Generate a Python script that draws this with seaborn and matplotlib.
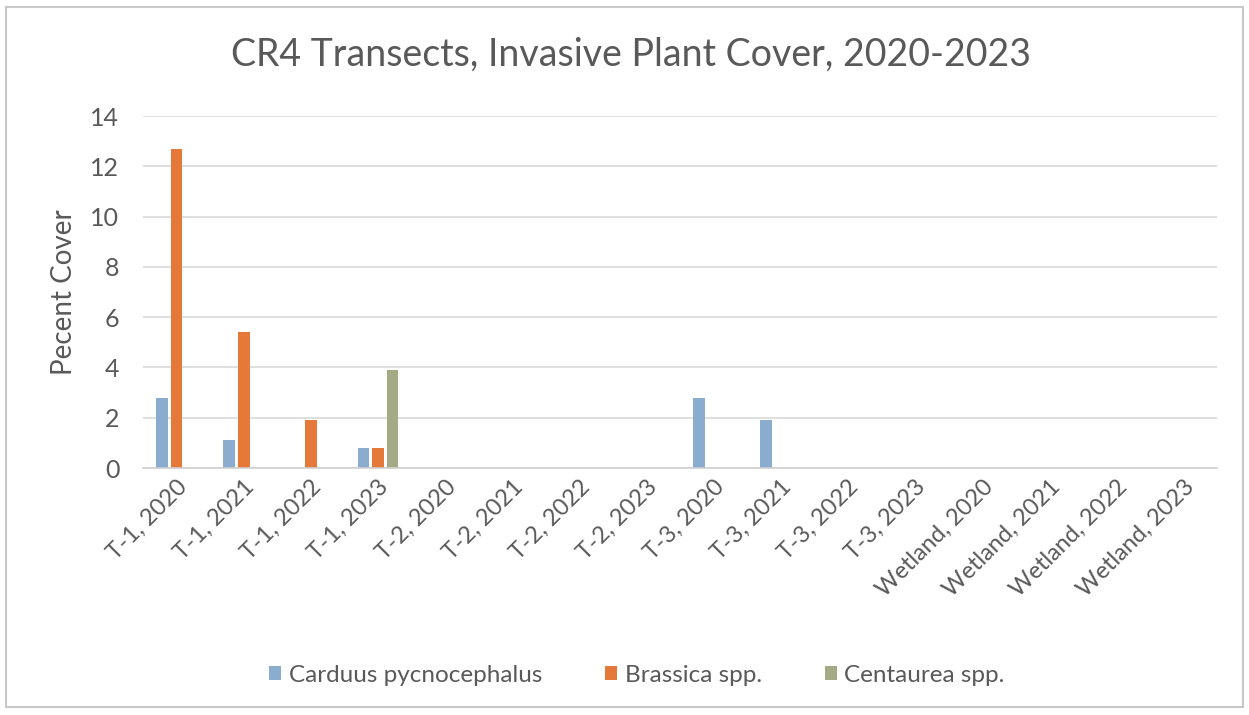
import matplotlib
matplotlib.use("Agg")
import matplotlib.pyplot as plt
from matplotlib.patches import Rectangle
import pandas as pd
import seaborn as sns

# Sampling units (transect, year)
categories = [
    "T-1, 2020", "T-1, 2021", "T-1, 2022", "T-1, 2023",
    "T-2, 2020", "T-2, 2021", "T-2, 2022", "T-2, 2023",
    "T-3, 2020", "T-3, 2021", "T-3, 2022", "T-3, 2023",
    "Wetland, 2020", "Wetland, 2021", "Wetland, 2022", "Wetland, 2023",
]

# Percent cover per species
carduus = [2.8, 1.1, 0, 0.8, 0, 0, 0, 0, 2.8, 1.9, 0, 0, 0, 0, 0, 0]
brassica = [12.7, 5.4, 1.9, 0.8, 0, 0, 0, 0, 0, 0, 0, 0, 0, 0, 0, 0]
centaurea = [0, 0, 0, 3.9, 0, 0, 0, 0, 0, 0, 0, 0, 0, 0, 0, 0]

species = ["Carduus pycnocephalus", "Brassica spp.", "Centaurea spp."]
colors = ["#8aaccf", "#e5793a", "#a3aa85"]
y_ticks = [0, 2, 4, 6, 8, 10, 12, 14]

df = pd.DataFrame({
    "Unit": categories * 3,
    "Species": [species[0]] * len(categories) + [species[1]] * len(categories)
               + [species[2]] * len(categories),
    "Cover": carduus + brassica + centaurea,
})

sns.set_theme(style="white")
plt.rcParams["font.family"] = ["Lato", "DejaVu Sans"]

fig = plt.figure(figsize=(12.49, 7.15), dpi=100)
ax = fig.add_axes([143 / 1249, 1 - 468 / 715, (1217 - 143) / 1249, (468 - 116) / 715])

sns.barplot(
    data=df, x="Unit", y="Cover", hue="Species", order=categories,
    hue_order=species, palette=colors, width=0.65, gap=0.2,
    saturation=1, ax=ax, legend=True, linewidth=0,
)

ax.set_ylim(0, 14)
ax.set_yticks(y_ticks)
ax.set_yticklabels([str(t) for t in y_ticks], fontsize=18, color="#595959")
ax.yaxis.grid(True, color="#d9d9d9", linewidth=1.2)
ax.set_axisbelow(True)
for side in ("top", "right", "left"):
    ax.spines[side].set_visible(False)
ax.spines["bottom"].set_color("#d0d0d0")
ax.spines["bottom"].set_linewidth(1.2)
ax.tick_params(axis="y", length=0, pad=17)

ax.set_xticks(range(len(categories)))
ax.set_xticklabels(categories, rotation=45, ha="right", va="top",
                   rotation_mode="anchor", fontsize=17, color="#595959")
ax.tick_params(axis="x", length=0, pad=6)
ax.set_xlabel("")
ax.set_ylabel("Pecent Cover", fontsize=20, color="#595959", labelpad=10)

fig.suptitle("CR4 Transects, Invasive Plant Cover, 2020-2023",
             x=0.505, y=1 - 55 / 715, va="center", fontsize=27, color="#595959")

handles, labels = ax.get_legend_handles_labels()
ax.legend_.remove()
fig.legend(handles, labels, loc="center", bbox_to_anchor=(0.51, 1 - 675 / 715),
           ncol=3, frameon=False, fontsize=17.5, handlelength=0.5, handleheight=0.5,
           columnspacing=2.6, handletextpad=0.3, labelcolor="#595959")

# light frame around the chart area
fig.patches.append(Rectangle((6 / 1249, 8 / 715), 1237 / 1249, 700 / 715,
                             transform=fig.transFigure, fill=False,
                             edgecolor="#c8c8c8", linewidth=1.5))

fig.savefig("out.png", dpi=100, facecolor="white")
